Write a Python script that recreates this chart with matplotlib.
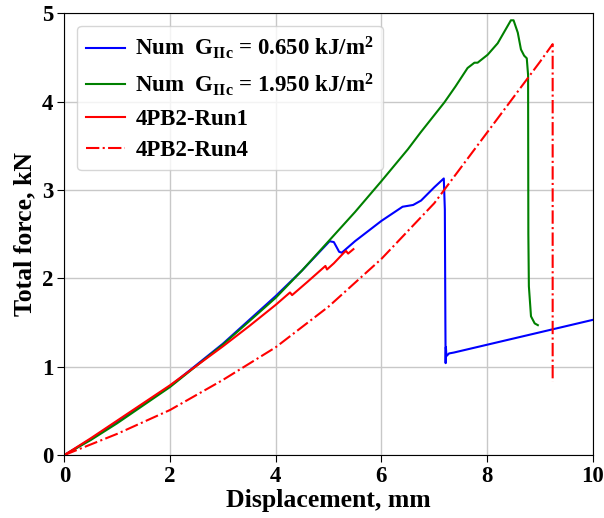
import matplotlib
matplotlib.use("Agg")
import matplotlib.pyplot as plt

plt.rcParams['font.family'] = ['Liberation Serif', 'DejaVu Serif']
plt.rcParams['font.weight'] = 'bold'
plt.rcParams['mathtext.fontset'] = 'custom'
plt.rcParams['mathtext.rm'] = 'Liberation Serif:bold'
plt.rcParams['mathtext.bf'] = 'Liberation Serif:bold'
plt.rcParams['mathtext.it'] = 'Liberation Serif:bold'

# Data
num065_x = [0, 0.5, 1, 2, 3, 4, 4.5, 5.02, 5.1, 5.2, 5.25, 5.5, 6.0, 6.4, 6.6, 6.75, 7.0, 7.18,
            7.20, 7.21, 7.215, 7.22, 7.23, 7.28, 7.37, 10.0]
num065_y = [0, 0.18, 0.38, 0.78, 1.26, 1.80, 2.09, 2.42, 2.41, 2.30, 2.29, 2.42, 2.65, 2.81, 2.83, 2.88, 3.03, 3.13,
            2.78, 1.50, 1.04, 1.22, 1.12, 1.15, 1.16, 1.53]

num195_x = [0, 0.5, 1, 2, 3, 4, 4.5, 5, 5.5, 6, 6.5, 6.74, 7.19, 7.4, 7.63, 7.76, 7.82, 8.01, 8.2, 8.45, 8.50,
            8.58, 8.64, 8.70, 8.75, 8.775, 8.78, 8.79, 8.83, 8.9, 8.96]
num195_y = [0, 0.17, 0.36, 0.77, 1.25, 1.78, 2.09, 2.42, 2.75, 3.10, 3.46, 3.65, 3.99, 4.17, 4.38, 4.44, 4.44, 4.53, 4.66, 4.92, 4.92,
            4.78, 4.59, 4.52, 4.49, 4.3, 2.5, 1.91, 1.57, 1.49, 1.47]

run1_x = [0, 0.5, 1, 2, 3, 3.5, 4, 4.27, 4.31, 4.6, 4.94, 4.97, 5.1, 5.29, 5.33, 5.37, 5.45, 5.47]
run1_y = [0, 0.19, 0.39, 0.79, 1.23, 1.46, 1.70, 1.84, 1.81, 1.96, 2.14, 2.10, 2.17, 2.29, 2.31, 2.28, 2.32, 2.33]

run4_x = [0, 0.5, 1, 2, 3, 4, 5, 6, 7, 7.5, 8, 8.5, 9, 9.24, 9.24]
run4_y = [0, 0.12, 0.24, 0.51, 0.85, 1.22, 1.68, 2.22, 2.85, 3.25, 3.65, 4.05, 4.45, 4.65, 0.83]

labels = [r"Num  G$_{\mathrm{IIc}}$ = 0.650 kJ/m$^{2}$",
          r"Num  G$_{\mathrm{IIc}}$ = 1.950 kJ/m$^{2}$",
          "4PB2-Run1", "4PB2-Run4"]

fig = plt.figure(figsize=(6.04, 5.18), dpi=100)
ax = fig.add_axes([0.1065, 0.1215, 0.875, 0.853])

ax.plot(num065_x, num065_y, color='blue', lw=1.5, label=labels[0])
ax.plot(num195_x, num195_y, color='green', lw=1.5, label=labels[1])
ax.plot(run1_x, run1_y, color='red', lw=1.5, label=labels[2])
ax.plot(run4_x, run4_y, color='red', lw=1.5, ls='-.', label=labels[3])

ax.set_xlim(0, 10)
ax.set_ylim(0, 5)
ax.set_xticks([0, 2, 4, 6, 8, 10])
ax.set_yticks([0, 1, 2, 3, 4, 5])
ax.grid(True, color='#c8c8c8', lw=1)
ax.set_axisbelow(True)
ax.tick_params(labelsize=16.5, length=5, pad=3)
for lab in ax.get_xticklabels() + ax.get_yticklabels():
    lab.set_fontweight('bold')
ax.set_xlabel("Displacement, mm", fontsize=18.5, fontweight='bold', labelpad=1)
ax.set_ylabel("Total force, kN", fontsize=18.5, fontweight='bold', labelpad=4)

leg = ax.legend(loc='upper left', prop={'weight': 'bold', 'size': 16.5},
                handlelength=1.7, labelspacing=0.45, borderaxespad=0.55, handletextpad=0.45,
                borderpad=0.4)

fig.savefig("out.png", dpi=100)
